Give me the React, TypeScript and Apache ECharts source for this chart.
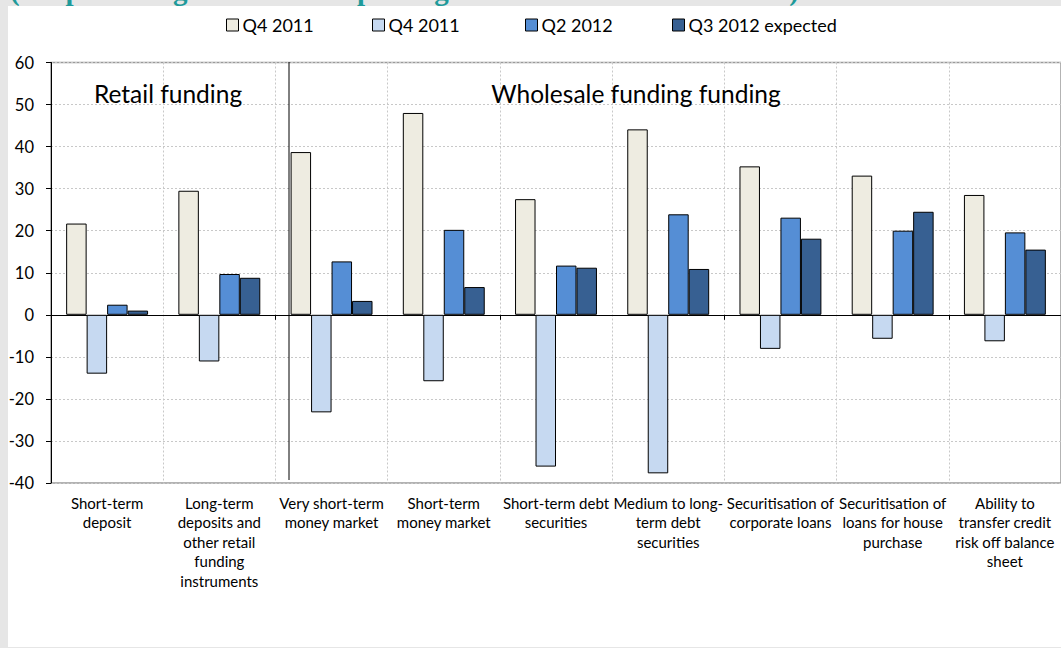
import React, { useEffect, useRef } from "react";
import * as echarts from "echarts";

const categories = [
  "Short-term\ndeposit",
  "Long-term\ndeposits and\nother retail\nfunding\ninstruments",
  "Very short-term\nmoney market",
  "Short-term\nmoney market",
  "Short-term debt\nsecurities",
  "Medium to long-\nterm debt\nsecurities",
  "Securitisation of\ncorporate loans",
  "Securitisation of\nloans for house\npurchase",
  "Ability to\ntransfer credit\nrisk off balance\nsheet",
];

const seriesLabels = ["Q4 2011", "Q4 2011", "Q2 2012", "Q3 2012 expected"];
const seriesColors = ["#EEECE1", "#C6D9F1", "#558ED5", "#376092"];

const q4_2011_a = [21.7, 29.5, 38.7, 48.0, 27.5, 44.1, 35.3, 33.1, 28.5];
const q4_2011_b = [-14.0, -11.1, -23.2, -15.8, -36.1, -37.7, -8.1, -5.7, -6.3];
const q2_2012 = [2.4, 9.7, 12.7, 20.2, 11.7, 23.9, 23.1, 20.0, 19.6];
const q3_2012_expected = [1.0, 8.8, 3.3, 6.6, 11.2, 10.9, 18.1, 24.5, 15.5];

const seriesValues = [q4_2011_a, q4_2011_b, q2_2012, q3_2012_expected];

const yTicks = { min: -40, max: 60, interval: 10 };

const titleText = "(net percentages of banks reporting deteriorated market access)";
const groupLabels = ["Retail funding", "Wholesale funding funding"];

const legendLefts = [226, 372, 525, 672];

const FONT = "Lato, 'Noto Sans', sans-serif";
const FRAME = "#E6E6E6";

export default function App() {
  const ref = useRef<HTMLDivElement>(null);

  useEffect(() => {
    document.documentElement.style.overflow = "hidden";
    document.body.style.overflow = "hidden";
    document.body.style.margin = "0";
    if (!ref.current) return;
    const chart = echarts.init(ref.current, undefined, { renderer: "svg" });
    const names = seriesLabels.map((l, i) => `${l}#${i}`);

    chart.setOption({
      animation: false,
      backgroundColor: "#FFFFFF",
      textStyle: { fontFamily: FONT },
      graphic: [
        {
          type: "rect",
          shape: { x: 0, y: 0, width: 1061, height: 6 },
          z: -10,
          style: { fill: FRAME },
        },
        {
          type: "rect",
          shape: { x: 0, y: 0, width: 8, height: 648 },
          z: -10,
          style: { fill: FRAME },
        },
        {
          type: "rect",
          shape: { x: 0, y: 647, width: 1061, height: 1 },
          z: -10,
          style: { fill: FRAME },
        },
        {
          type: "text",
          x: 10,
          y: -25,
          z: -5,
          style: {
            text: titleText,
            font: "bold 29px 'Liberation Serif', serif",
            fill: "#1E9A9A",
            verticalAlign: "top",
          },
        },
        {
          type: "rect",
          shape: { x: 8, y: 6, width: 1053, height: 641 },
          z: -4,
          style: { fill: "#FFFFFF" },
        },
        {
          type: "line",
          shape: { x1: 289, y1: 62, x2: 289, y2: 480 },
          z: 5,
          style: { stroke: "#000", lineWidth: 1 },
        },
        {
          type: "text",
          x: 168,
          y: 93,
          z: 5,
          style: {
            text: groupLabels[0],
            font: `24.5px ${FONT}`,
            fill: "#000",
            align: "center",
            verticalAlign: "middle",
          },
        },
        {
          type: "text",
          x: 636,
          y: 93,
          z: 5,
          style: {
            text: groupLabels[1],
            font: `24.5px ${FONT}`,
            fill: "#000",
            align: "center",
            verticalAlign: "middle",
          },
        },
      ],
      legend: names.map((n, i) => ({
        data: [n],
        left: legendLefts[i],
        top: 16,
        icon: "rect",
        itemWidth: 12,
        itemHeight: 12,
        itemGap: 0,
        padding: 0,
        selectedMode: false,
        formatter: (name: string) => name.split("#")[0],
        textStyle: { fontSize: 18, color: "#000", fontFamily: FONT, padding: [0, 0, 0, -1] },
        itemStyle: { borderColor: "#000", borderWidth: 1 },
      })),
      grid: {
        left: 51,
        right: -2,
        top: 62.5,
        bottom: 165,
        show: true,
        borderColor: "#9A9A9A",
        borderWidth: 1.5,
        backgroundColor: "transparent",
      },
      xAxis: [
        {
          type: "category",
          data: categories,
          position: "bottom",
          axisLine: { show: false, onZero: false },
          axisTick: { show: false },
          splitLine: { show: true, lineStyle: { color: "#C8C8C8", type: [2, 2] } },
          axisLabel: {
            interval: 0,
            margin: 10,
            fontSize: 15,
            lineHeight: 19.5,
            color: "#000",
            fontFamily: FONT,
          },
        },
        {
          type: "category",
          data: categories,
          position: "bottom",
          axisLine: { show: true, onZero: true, onZeroAxisIndex: 0, lineStyle: { color: "#000", width: 1 } },
          axisTick: { show: true, length: 5, lineStyle: { color: "#000" } },
          axisLabel: { show: false },
          splitLine: { show: false },
        },
      ],
      yAxis: {
        type: "value",
        min: yTicks.min,
        max: yTicks.max,
        interval: yTicks.interval,
        axisLine: { show: true, lineStyle: { color: "#000", width: 1 } },
        axisTick: { show: true, length: 5, lineStyle: { color: "#000" } },
        splitLine: { show: true, lineStyle: { color: "#C8C8C8", type: [2, 2] } },
        axisLabel: { fontSize: 16.5, color: "#000", margin: 17, fontFamily: FONT },
      },
      series: names.map((n, i) => ({
        type: "bar",
        name: n,
        xAxisIndex: 0,
        data: seriesValues[i],
        barGap: "0%",
        barCategoryGap: "27%",
        itemStyle: { color: seriesColors[i], borderColor: "#000", borderWidth: 1 },
      })),
    });

    return () => chart.dispose();
  }, []);

  return (
    <div
      ref={ref}
      style={{ position: "fixed", left: 0, top: 0, width: 1061, height: 648 }}
    />
  );
}
